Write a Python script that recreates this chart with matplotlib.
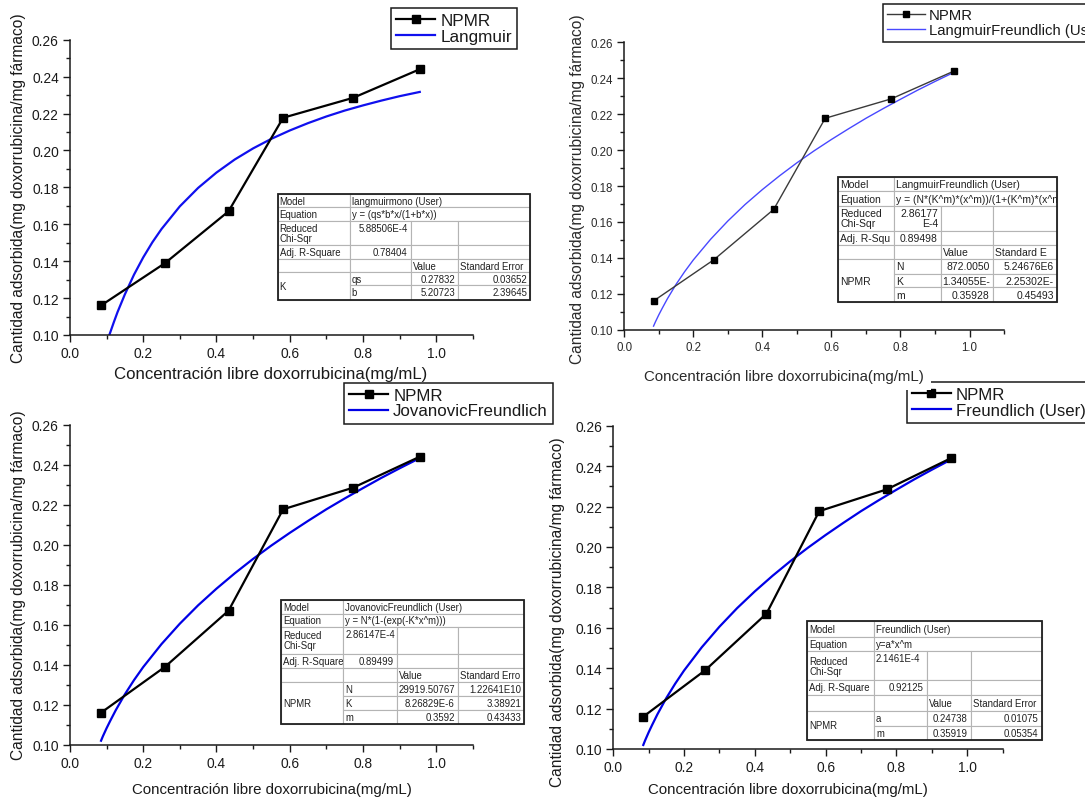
import matplotlib
matplotlib.use('Agg')
import matplotlib.pyplot as plt
from matplotlib.patches import Rectangle
from matplotlib.transforms import Bbox, TransformedBbox

plt.rcParams['font.family'] = ['Liberation Sans', 'DejaVu Sans']

W, H = 1085, 804

# ---------------- data ----------------
conc = [0.085, 0.26, 0.433, 0.582, 0.773, 0.955]
qads = [0.116, 0.139, 0.167, 0.2177, 0.2285, 0.244]

lang_x = [0.108, 0.12, 0.13, 0.15, 0.175, 0.2, 0.225, 0.25, 0.3, 0.35, 0.4, 0.45,
          0.5, 0.55, 0.6, 0.65, 0.7, 0.75, 0.8, 0.85, 0.9, 0.955]
lang_y = [0.1002, 0.1070, 0.1124, 0.1220, 0.1327, 0.1420, 0.1502, 0.1574, 0.1697,
          0.1797, 0.1880, 0.1951, 0.2011, 0.2063, 0.2108, 0.2148, 0.2184, 0.2216,
          0.2244, 0.2270, 0.2294, 0.2317]

freund_x = [0.085, 0.09, 0.1, 0.11, 0.125, 0.15, 0.175, 0.2, 0.25, 0.3, 0.35, 0.4,
            0.45, 0.5, 0.55, 0.6, 0.65, 0.7, 0.75, 0.8, 0.85, 0.9, 0.955]
freund_y = [0.1020, 0.1042, 0.1082, 0.1119, 0.1172, 0.1252, 0.1323, 0.1388, 0.1503,
            0.1605, 0.1697, 0.1780, 0.1857, 0.1929, 0.1996, 0.2059, 0.2119, 0.2177,
            0.2231, 0.2283, 0.2334, 0.2382, 0.2433]

series_label = 'NPMR'
fit_labels = ['Langmuir', 'LangmuirFreundlich (User)', 'JovanovicFreundlich', 'Freundlich (User)']
x_label = 'Concentración libre doxorrubicina(mg/mL)'
y_label = 'Cantidad adsorbida(mg doxorrubicina/mg fármaco)'

x_major = [0.0, 0.2, 0.4, 0.6, 0.8, 1.0]
x_major_labels = ['0.0', '0.2', '0.4', '0.6', '0.8', '1.0']
x_minor = [0.1, 0.3, 0.5, 0.7, 0.9, 1.1]
y_major = [0.10, 0.12, 0.14, 0.16, 0.18, 0.20, 0.22, 0.24, 0.26]
y_major_labels = ['0.10', '0.12', '0.14', '0.16', '0.18', '0.20', '0.22', '0.24', '0.26']
y_minor = [0.11, 0.13, 0.15, 0.17, 0.19, 0.21, 0.23, 0.25]

# fit report tables
t1_model = 'langmuirmono (User)'
t1_equation = 'y = (qs*b*x/(1+b*x))'
t1_chi = '5.88506E-4'
t1_adj = '0.78404'
t1_group = 'K'
t1_params = ['qs', 'b']
t1_values = ['0.27832', '5.20723']
t1_errors = ['0.03652', '2.39645']

t2_model = 'LangmuirFreundlich (User)'
t2_equation = 'y = (N*(K^m)*(x^m))/(1+(K^m)*(x^m)))'
t2_chi = '2.86177\nE-4'
t2_adj = '0.89498'
t2_group = 'NPMR'
t2_params = ['N', 'K', 'm']
t2_values = ['872.0050', '1.34055E-', '0.35928']
t2_errors = ['5.24676E6', '2.25302E-', '0.45493']

t3_model = 'JovanovicFreundlich (User)'
t3_equation = 'y = N*(1-(exp(-K*x^m)))'
t3_chi = '2.86147E-4'
t3_adj = '0.89499'
t3_group = 'NPMR'
t3_params = ['N', 'K', 'm']
t3_values = ['29919.50767', '8.26829E-6', '0.3592']
t3_errors = ['1.22641E10', '3.38921', '0.43433']

t4_model = 'Freundlich (User)'
t4_equation = 'y=a*x^m'
t4_chi = '2.1461E-4'
t4_adj = '0.92125'
t4_group = 'NPMR'
t4_params = ['a', 'm']
t4_values = ['0.24738', '0.35919']
t4_errors = ['0.01075', '0.05354']

fig = plt.figure(figsize=(W / 100, H / 100), dpi=100)


def px_rect(l, t, r, b):
    return [l / W, 1 - b / H, (r - l) / W, (b - t) / H]


def make_panel(rect, fit_x, fit_y, fit_label, dcol, dlw, bcol, blw, ms, tick_fs,
               xl_fs, yl_fs, xl_pos, yl_pos, lab_col, leg_pos, leg_fs, leg_hl, leg_pad):
    ax = fig.add_axes(px_rect(*rect))
    ax.plot(conc, qads, color=dcol, lw=dlw, marker='s', ms=ms, mfc='black', mec='black',
            label=series_label, zorder=3)
    ax.plot(fit_x, fit_y, color=bcol, lw=blw, label=fit_label, zorder=2)
    ax.set_xlim(0, 1.1)
    ax.set_ylim(0.10, 0.26)
    for s in ['top', 'right']:
        ax.spines[s].set_visible(False)
    for s in ['left', 'bottom']:
        ax.spines[s].set_linewidth(1.1)
        ax.spines[s].set_color('#1a1a1a')
    ax.set_xticks(x_major)
    ax.set_xticklabels(x_major_labels)
    ax.set_xticks(x_minor, minor=True)
    ax.set_yticks(y_major)
    ax.set_yticklabels(y_major_labels)
    ax.set_yticks(y_minor, minor=True)
    ax.tick_params(which='major', direction='out', length=5, width=1.0, color='#1a1a1a',
                   labelsize=tick_fs, labelcolor=lab_col, pad=3)
    ax.tick_params(which='minor', direction='out', length=3, width=1.0, color='#1a1a1a')
    ax.set_xlabel(x_label, fontsize=xl_fs, color=lab_col, va='center')
    ax.set_ylabel(y_label, fontsize=yl_fs, color=lab_col, va='center')
    ax.xaxis.set_label_coords(*xl_pos)
    ax.yaxis.set_label_coords(*yl_pos)
    leg = ax.legend(loc='upper left', bbox_to_anchor=(leg_pos[0] / W, 1 - leg_pos[1] / H),
                    bbox_transform=fig.transFigure, borderaxespad=0, fancybox=False,
                    framealpha=1, edgecolor='#1a1a1a', fontsize=leg_fs,
                    handlelength=leg_hl, handletextpad=0.3, borderpad=leg_pad,
                    labelspacing=0.05, numpoints=1)
    leg.get_frame().set_linewidth(1.1)
    for t in leg.get_texts():
        t.set_color('#1a1a1a')
    return ax


def build_cells(model, equation, chi, chi_ha, adj_label, adj, err_head, group, params, values, errors):
    cells = [
        (0, 1, 0, 1, 'Model', 'left', 'center'),
        (0, 1, 1, 4, model, 'left', 'center'),
        (1, 2, 0, 1, 'Equation', 'left', 'center'),
        (1, 2, 1, 4, equation, 'left', 'center'),
        (2, 3, 0, 1, 'Reduced\nChi-Sqr', 'left', 'center'),
        (2, 3, 1, 2, chi, chi_ha, 'top'),
        (2, 3, 2, 3, '', 'left', 'center'),
        (2, 3, 3, 4, '', 'left', 'center'),
        (3, 4, 0, 1, adj_label, 'left', 'center'),
        (3, 4, 1, 2, adj, 'right', 'center'),
        (3, 4, 2, 3, '', 'left', 'center'),
        (3, 4, 3, 4, '', 'left', 'center'),
        (4, 5, 0, 1, '', 'left', 'center'),
        (4, 5, 1, 2, '', 'left', 'center'),
        (4, 5, 2, 3, 'Value', 'left', 'center'),
        (4, 5, 3, 4, err_head, 'left', 'center'),
        (5, 5 + len(params), 0, 1, group, 'left', 'center'),
    ]
    for i, (p, v, e) in enumerate(zip(params, values, errors)):
        cells.append((5 + i, 6 + i, 1, 2, p, 'left', 'center'))
        cells.append((5 + i, 6 + i, 2, 3, v, 'right', 'center'))
        cells.append((5 + i, 6 + i, 3, 4, e, 'right', 'center'))
    return cells


def draw_table(cols, rows, cells, fs):
    for (r0, r1, c0, c1, txt, ha, va) in cells:
        x0, x1 = cols[c0], cols[c1]
        y0, y1 = rows[r0], rows[r1]
        fig.add_artist(Rectangle((x0 / W, 1 - y1 / H), (x1 - x0) / W, (y1 - y0) / H,
                                 transform=fig.transFigure, facecolor='white',
                                 edgecolor='#b4b4b4', lw=0.8, zorder=10))
        if txt:
            tx = x0 + 2 if ha == 'left' else x1 - 3
            ty = y0 + 1.5 if va == 'top' else (y0 + y1) / 2
            t = fig.text(tx / W, 1 - ty / H, txt, ha=ha, va=va, fontsize=fs,
                         color='#202020', zorder=11, linespacing=1.0)
            t.set_clip_box(TransformedBbox(Bbox.from_extents(x0 / W, 1 - y1 / H, x1 / W, 1 - y0 / H),
                                           fig.transFigure))
    fig.add_artist(Rectangle((cols[0] / W, 1 - rows[-1] / H), (cols[-1] - cols[0]) / W,
                             (rows[-1] - rows[0]) / H, transform=fig.transFigure,
                             fill=False, edgecolor='#202020', lw=1.3, zorder=12))


# ---------------- panels ----------------
ax1 = make_panel((69.9, 40.7, 472.9, 336.0), lang_x, lang_y, fit_labels[0],
                 'black', 1.6, '#1010ee', 1.6, 5.6, 9.9, 12.1, 11.2,
                 (0.4985, -0.132), (-0.1266, 0.5), '#1a1a1a',
                 (391, 9), 12.3, 2.3, 0.3)
ax2 = make_panel((624.2, 43.3, 1004.1, 330.7), freund_x, freund_y, fit_labels[1],
                 '#3a3a3a', 1.0, '#4848ff', 1.0, 5.0, 8.3, 10.8, 11.2,
                 (0.4213, -0.160), (-0.1224, 0.493), '#2a2a2a',
                 (883, 5), 10.7, 2.5, 0.3)
ax3 = make_panel((69.9, 425.7, 472.9, 745.7), freund_x, freund_y, fit_labels[2],
                 'black', 1.6, '#0000e6', 1.6, 5.6, 9.9, 10.8, 11.2,
                 (0.5025, -0.138), (-0.1266, 0.502), '#1a1a1a',
                 (344, 383.5), 12.2, 2.3, 0.3)
ax4 = make_panel((613.2, 426.7, 1002.6, 750.0), freund_x, freund_y, fit_labels[3],
                 'black', 1.6, '#0000e6', 1.6, 5.6, 9.9, 10.8, 11.2,
                 (0.45, -0.124), (-0.1443, 0.425), '#1a1a1a',
                 (907, 383), 12.1, 2.3, 0.3)

# panel 2 x-label sits over panel 4 legend corner
ax2.xaxis.label.set_bbox(dict(facecolor='white', edgecolor='none', pad=5))
ax2.set_zorder(2)

# ---------------- tables ----------------
draw_table([277.5, 349.5, 410.8, 458.0, 530.3],
           [195, 208.3, 222.3, 246, 260, 273.3, 286, 301],
           build_cells(t1_model, t1_equation, t1_chi, 'right', 'Adj. R-Square', t1_adj,
                       'Standard Error', t1_group, t1_params, t1_values, t1_errors), 6.9)
draw_table([838.3, 894.3, 941, 992.7, 1056.7],
           [177.7, 192.3, 207.3, 231.7, 245.7, 260, 275, 288.3, 303.3],
           build_cells(t2_model, t2_equation, t2_chi, 'right', 'Adj. R-Squ', t2_adj,
                       'Standard E', t2_group, t2_params, t2_values, t2_errors), 7.5)
draw_table([281, 343.3, 396.7, 457.7, 524.3],
           [601.3, 614.7, 628, 654.7, 668.7, 683, 697, 710.7, 724.7],
           build_cells(t3_model, t3_equation, t3_chi, 'left', 'Adj. R-Square', t3_adj,
                       'Standard Erro', t3_group, t3_params, t3_values, t3_errors), 6.9)
draw_table([807.3, 874, 926.7, 970.7, 1041.7],
           [621.7, 637.7, 652.3, 681, 696, 711.7, 726.7, 741],
           build_cells(t4_model, t4_equation, t4_chi, 'left', 'Adj. R-Square', t4_adj,
                       'Standard Error', t4_group, t4_params, t4_values, t4_errors), 6.9)

fig.savefig('out.png', dpi=100)
